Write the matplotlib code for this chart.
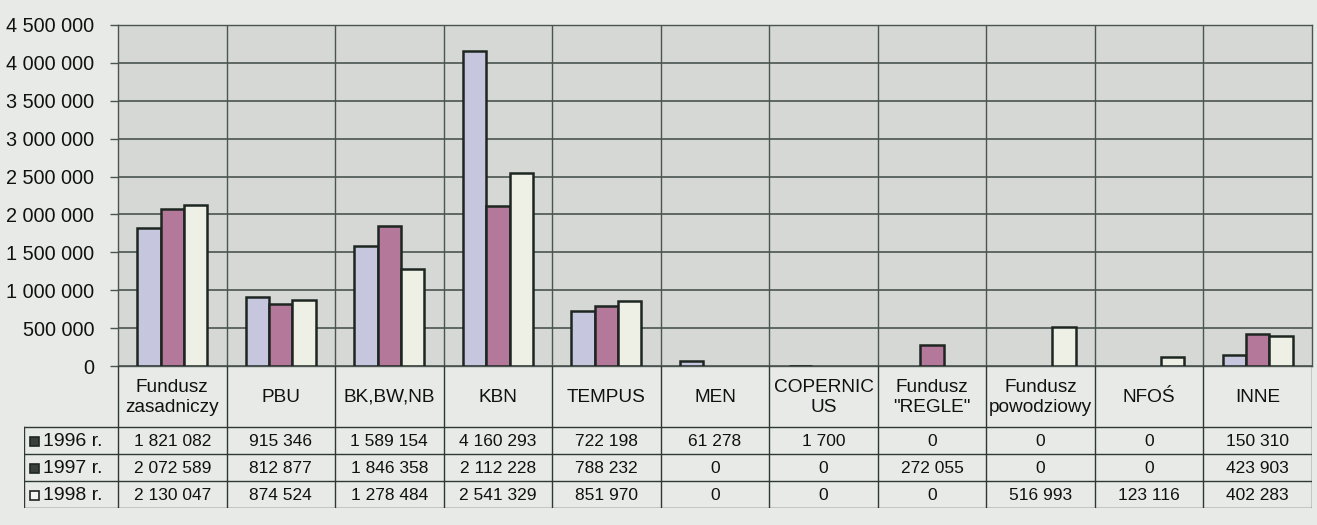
import matplotlib
matplotlib.use('Agg')
import matplotlib.pyplot as plt
from matplotlib.patches import Rectangle
import numpy as np

categories = ["Fundusz\nzasadniczy", "PBU", "BK,BW,NB", "KBN", "TEMPUS", "MEN",
              "COPERNIC\nUS", "Fundusz\n\"REGLE\"", "Fundusz\npowodziowy", "NFOŚ", "INNE"]
series_labels = ["1996 r.", "1997 r.", "1998 r."]
v1996 = [1821082, 915346, 1589154, 4160293, 722198, 61278, 1700, 0, 0, 0, 150310]
v1997 = [2072589, 812877, 1846358, 2112228, 788232, 0, 0, 272055, 0, 0, 423903]
v1998 = [2130047, 874524, 1278484, 2541329, 851970, 0, 0, 0, 516993, 123116, 402283]
yticks = list(range(0, 4500001, 500000))

colors = ['#c6c7de', '#b3789a', '#eef0e6']
edge = '#1e2622'
gridc = '#4a5550'

plt.rcParams['font.family'] = ['Liberation Sans', 'DejaVu Sans']

def fmt(v):
    return f"{v:,}".replace(",", " ")

W, H = 1317, 525
L, R, T, B = 118, 1312, 25, 366
fig = plt.figure(figsize=(W / 100, H / 100), dpi=100, facecolor='#e8eae8')

ax = fig.add_axes([L / W, 1 - B / H, (R - L) / W, (B - T) / H])
ax.set_facecolor('#d6d8d5')
ax.set_xlim(-0.5, len(categories) - 0.5)
ax.set_ylim(0, 4500000)
x = np.arange(len(categories))
bw = 0.215
for k, vals in enumerate([v1996, v1997, v1998]):
    vals = np.array(vals, dtype=float)
    m = vals > 0
    ax.bar(x[m] + (k - 1) * bw, vals[m], bw, color=colors[k], edgecolor=edge,
           linewidth=1.8, zorder=3)
ax.set_yticks(yticks)
ax.set_yticklabels([fmt(v) for v in yticks], fontsize=14.3, color='#111')
ax.yaxis.grid(True, color=gridc, linewidth=1.2, zorder=1)
for i in range(len(categories) - 1):
    ax.axvline(i + 0.5, color=gridc, linewidth=1, zorder=1)
ax.set_xticks([])
ax.tick_params(axis='y', length=6, width=1, color=gridc, pad=11)
for s in ax.spines.values():
    s.set_color(gridc)
    s.set_linewidth(1)

# data table
cw = (R - L) / len(categories)
hdr, rh = 61, 27
tot = hdr + 3 * rh
xl = -0.5 - (L - 24) / cw
tax = fig.add_axes([24 / W, 1 - (B + tot) / H, (R - 24) / W, tot / H])
tax.set_xlim(xl, len(categories) - 0.5)
tax.set_ylim(tot, 0)
tax.axis('off')
lc = '#2e3834'
for i in range(len(categories) + 1):
    tax.plot([i - 0.5, i - 0.5], [0, tot], color=lc, lw=1)
for yy in [hdr, hdr + rh, hdr + 2 * rh, tot]:
    tax.plot([xl, len(categories) - 0.5], [yy, yy], color=lc, lw=1)
tax.plot([xl, xl], [hdr, tot], color=lc, lw=1)

for i, c in enumerate(categories):
    tax.text(i, hdr / 2 + 1, c, ha='center', va='center', fontsize=13.7,
             linespacing=1.3, color='#111')
for k, vals in enumerate([v1996, v1997, v1998]):
    yc = hdr + rh * (k + 0.5)
    for i, v in enumerate(vals):
        tax.text(i, yc + 1, fmt(v), ha='center', va='center', fontsize=12.5, color='#111')
    sq = 9 / cw
    tax.add_patch(Rectangle((xl + 6 / cw, yc - 4), sq, 9,
                            facecolor='#3a3e3c' if k != 2 else '#f4f5f0',
                            edgecolor=edge, lw=1.2))
    tax.text(xl + 19 / cw, yc + 1, series_labels[k], ha='left', va='center',
             fontsize=14, color='#111')

fig.savefig('out.png', dpi=100, facecolor=fig.get_facecolor())
